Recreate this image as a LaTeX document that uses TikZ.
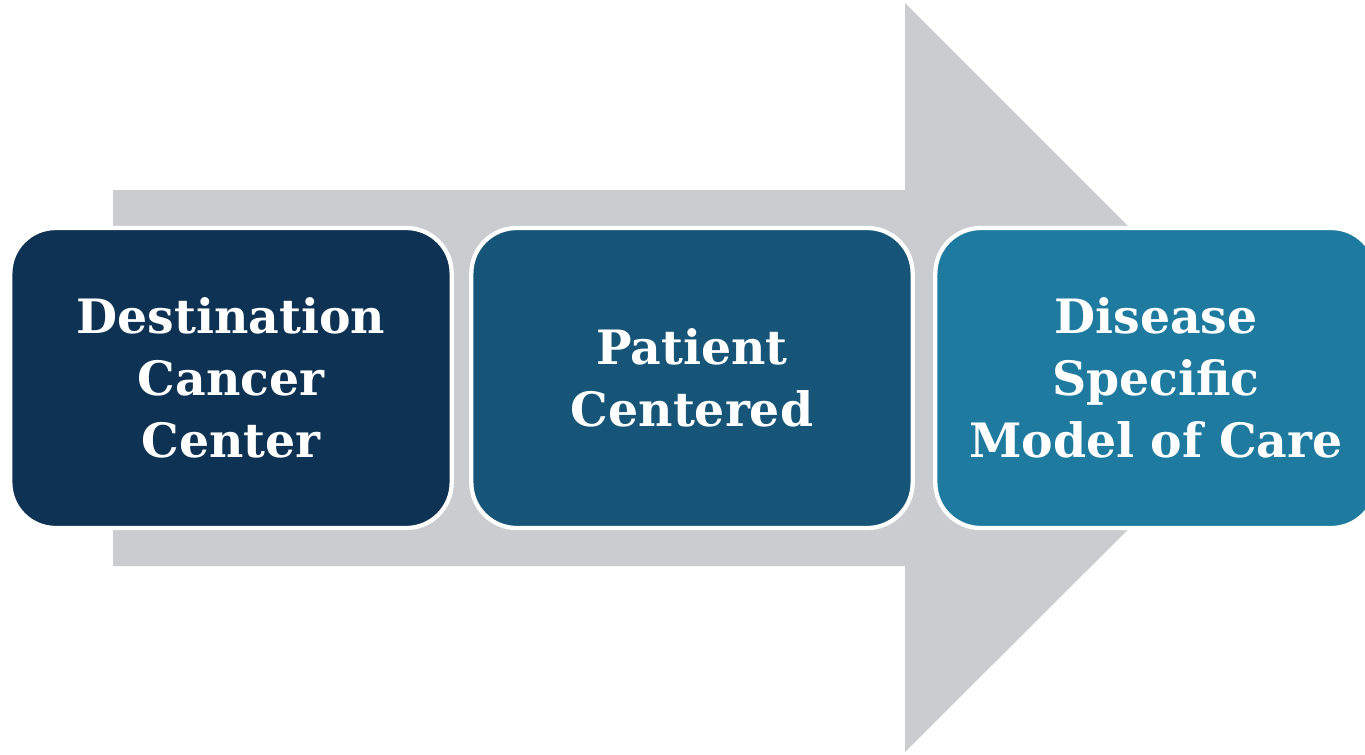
\documentclass[tikz,border=0pt]{standalone}
\usepackage{fontspec}
\setmainfont{DejaVu Serif}
\usetikzlibrary{positioning}

\definecolor{arrowgray}{RGB}{203,204,207}
\definecolor{stepA}{RGB}{13,50,83}
\definecolor{stepB}{RGB}{22,85,119}
\definecolor{stepC}{RGB}{30,122,158}

\tikzset{
  stagebox/.style={draw=white, line width=3.2pt, rounded corners=34pt,
    minimum width=331pt, minimum height=225pt, align=center,
    text=white, font=\fontsize{35.5}{46.5}\selectfont\bfseries},
}

\begin{document}
\begin{tikzpicture}[x=0.75pt,y=0.75pt,yscale=-1]
  \useasboundingbox (0,0) rectangle (1365,754);

  %Shape: big gray arrow behind the stages
  \fill[arrowgray] (113,190) -- (905,190) -- (905,3) -- (1280,378)
    -- (905,752) -- (905,566) -- (113,566) -- cycle;

  % Stage boxes
  \node[stagebox, fill=stepA] (dest) at (231,378) {Destination\\Cancer\\Center};
  \node[stagebox, fill=stepB] (patient) at (692,378) {Patient\\Centered};
  \node[stagebox, fill=stepC] (disease) at (1156,378) {Disease\\Specific\\Model of Care};
\end{tikzpicture}
\end{document}
